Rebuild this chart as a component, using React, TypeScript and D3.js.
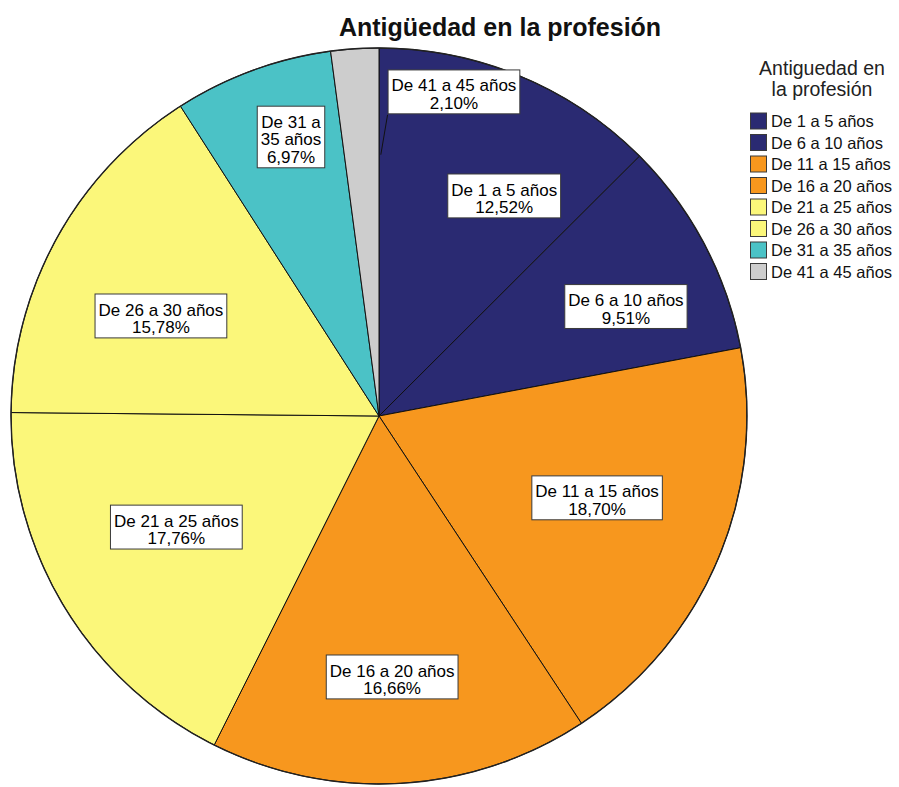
import React, { useEffect, useRef } from "react";
import * as d3 from "d3";

// Years-in-profession groups and their share of respondents (%)
const categories = [
  "De 1 a 5 años",
  "De 6 a 10 años",
  "De 11 a 15 años",
  "De 16 a 20 años",
  "De 21 a 25 años",
  "De 26 a 30 años",
  "De 31 a 35 años",
  "De 41 a 45 años",
];
const percents = [12.52, 9.51, 18.7, 16.66, 17.76, 15.78, 6.97, 2.1];
const colors = [
  "#2a2a72",
  "#2a2a72",
  "#f7971e",
  "#f7971e",
  "#fbf77a",
  "#fbf77a",
  "#4bc2c6",
  "#cdcdcd",
];

const title = "Antigüedad en la profesión";
const legendTitle = ["Antiguedad en", "la profesión"];

// Label placement inside each slice: radius as fraction of the pie radius,
// and a small angular nudge (degrees) from the slice's mid-angle.
const labelRadius = [0.688, 0.734, 0.633, 0.71, 0.628, 0.652, 0.795, 0.904];
const labelShift = [7.1, 3.9, -2.4, 0.5, 2.7, -4.3, 2.6, 16.8];
const labelWrap = [false, false, false, false, false, false, true, false];
// Slice whose label sits outside its wedge and needs a leader line
const leaderIndex = 7;

const W = 899;
const H = 787;
const CX = 379;
const CY = 416;
const R = 368;
const FONT = "Arial, 'Liberation Sans', Helvetica, sans-serif";

const fmt = (v: number) => v.toFixed(2).replace(".", ",") + "%";

export default function App() {
  const ref = useRef<SVGSVGElement | null>(null);

  useEffect(() => {
    document.body.style.margin = "0";
    const svg = d3.select(ref.current);
    svg.selectAll("*").remove();

    svg
      .append("rect")
      .attr("width", W)
      .attr("height", H)
      .attr("fill", "#ffffff");

    const data = categories.map((c, i) => ({ name: c, value: percents[i], i }));
    const pie = d3
      .pie<any>()
      .sort(null)
      .value((d: any) => d.value);
    const arcs = pie(data);
    const arc = d3.arc<any>().innerRadius(0).outerRadius(R);

    const g = svg.append("g").attr("transform", `translate(${CX},${CY})`);

    g.selectAll("path.slice")
      .data(arcs)
      .enter()
      .append("path")
      .attr("class", "slice")
      .attr("d", arc as any)
      .attr("fill", (d: any) => colors[d.data.i])
      .attr("stroke", "#111111")
      .attr("stroke-width", 1)
      .attr("stroke-linejoin", "round");

    g.append("circle")
      .attr("r", R)
      .attr("fill", "none")
      .attr("stroke", "#222222")
      .attr("stroke-width", 1.4);

    const polar = (angle: number, rad: number) => [
      Math.sin(angle) * rad,
      -Math.cos(angle) * rad,
    ];

    // Slice labels in white boxes
    const labelFont = 17;
    const lineH = 17.7;
    arcs.forEach((a: any) => {
      const i = a.data.i;
      const mid = (a.startAngle + a.endAngle) / 2;
      const ang = mid + (labelShift[i] * Math.PI) / 180;
      const [lx, ly] = polar(ang, labelRadius[i] * R);

      let lines: string[];
      if (labelWrap[i]) {
        const words = a.data.name.split(" ");
        lines = [words.slice(0, 3).join(" "), words.slice(3).join(" "), fmt(a.data.value)];
      } else {
        lines = [a.data.name, fmt(a.data.value)];
      }

      const lg = g.append("g").attr("transform", `translate(${lx},${ly})`);
      const rect = lg.append("rect");
      const text = lg
        .append("text")
        .attr("font-family", FONT)
        .attr("font-size", labelFont)
        .attr("fill", "#000")
        .attr("text-anchor", "middle");
      const totalH = lines.length * lineH;
      lines.forEach((ln, k) => {
        text
          .append("tspan")
          .attr("x", 0)
          .attr("y", -totalH / 2 + (k + 1) * lineH - 0.4)
          .text(ln);
      });
      let maxW = 0;
      text.selectAll("tspan").each(function () {
        const w = (this as SVGTextContentElement).getComputedTextLength();
        if (w > maxW) maxW = w;
      });
      const bw = maxW + 7;
      const bh = totalH + 8.5;
      rect
        .attr("x", -bw / 2)
        .attr("y", -bh / 2)
        .attr("width", bw)
        .attr("height", bh)
        .attr("fill", "#ffffff")
        .attr("stroke", "#3a3a3a")
        .attr("stroke-width", 1);

      if (i === leaderIndex) {
        // leader from the box corner down to the wedge's edge
        const [ax, ay] = polar(a.endAngle + (0.4 * Math.PI) / 180, 0.71 * R);
        g.append("line")
          .attr("x1", lx - bw / 2 - 0.5)
          .attr("y1", ly + bh / 2 + 1)
          .attr("x2", ax)
          .attr("y2", ay)
          .attr("stroke", "#111")
          .attr("stroke-width", 1);
      }
    });

    // Title
    svg
      .append("text")
      .attr("x", 500)
      .attr("y", 36)
      .attr("text-anchor", "middle")
      .attr("font-family", FONT)
      .attr("font-weight", "bold")
      .attr("font-size", 25)
      .attr("fill", "#111")
      .text(title);

    // Legend
    const leg = svg.append("g");
    legendTitle.forEach((t, k) => {
      leg
        .append("text")
        .attr("x", 822)
        .attr("y", 75 + k * 21)
        .attr("text-anchor", "middle")
        .attr("font-family", FONT)
        .attr("font-size", 19.5)
        .attr("fill", "#222")
        .text(t);
    });
    const rowY = d3
      .scaleLinear()
      .domain([0, categories.length - 1])
      .range([121, 121 + 21.5 * (categories.length - 1)]);
    categories.forEach((c, i) => {
      leg
        .append("rect")
        .attr("x", 750.5)
        .attr("y", rowY(i) - 8)
        .attr("width", 16)
        .attr("height", 16)
        .attr("fill", colors[i])
        .attr("stroke", "#3a3a3a")
        .attr("stroke-width", 1);
      leg
        .append("text")
        .attr("x", 771)
        .attr("y", rowY(i) + 6)
        .attr("font-family", FONT)
        .attr("font-size", 16.5)
        .attr("fill", "#111")
        .text(c);
    });
  }, []);

  return <svg ref={ref} width={W} height={H} style={{ display: "block" }} />;
}
